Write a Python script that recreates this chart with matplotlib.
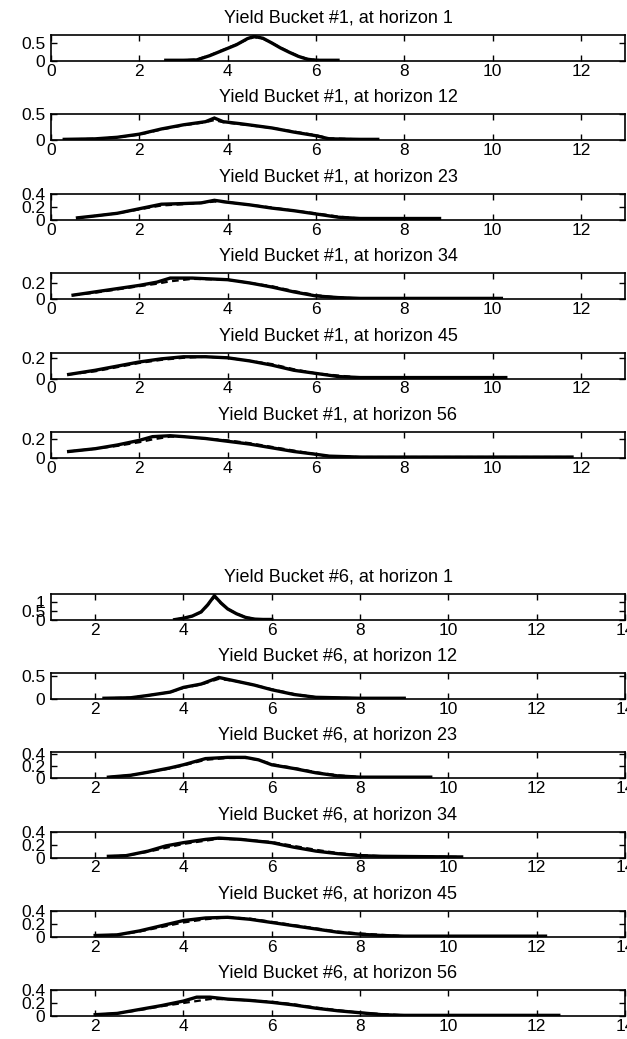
import matplotlib
matplotlib.use("Agg")
import matplotlib.pyplot as plt
import numpy as np

plt.rcParams['font.family'] = ['Liberation Sans', 'DejaVu Sans']

# ---------------- data ----------------
titles_g1 = ["Yield Bucket #1, at horizon 1", "Yield Bucket #1, at horizon 12",
             "Yield Bucket #1, at horizon 23", "Yield Bucket #1, at horizon 34",
             "Yield Bucket #1, at horizon 45", "Yield Bucket #1, at horizon 56"]
titles_g2 = ["Yield Bucket #6, at horizon 1", "Yield Bucket #6, at horizon 12",
             "Yield Bucket #6, at horizon 23", "Yield Bucket #6, at horizon 34",
             "Yield Bucket #6, at horizon 45", "Yield Bucket #6, at horizon 56"]

# Bucket 1
b1h1_x = [2.6, 3.0, 3.3, 3.6, 3.9, 4.2, 4.45, 4.6, 4.8, 5.0, 5.2, 5.4, 5.6, 5.8, 6.0, 6.3, 6.5]
b1h1_s = [0.02, 0.02, 0.03, 0.15, 0.30, 0.45, 0.62, 0.68, 0.63, 0.50, 0.36, 0.24, 0.13, 0.05, 0.02, 0.02, 0.02]
b1h1_d = [0.02, 0.02, 0.04, 0.16, 0.31, 0.46, 0.60, 0.66, 0.62, 0.50, 0.37, 0.25, 0.14, 0.06, 0.03, 0.02, 0.02]

b1h12_x = [0.3, 1.0, 1.5, 2.0, 2.5, 3.0, 3.5, 3.7, 3.9, 4.3, 5.0, 5.5, 6.0, 6.3, 7.0, 7.4]
b1h12_s = [0.02, 0.03, 0.06, 0.12, 0.22, 0.30, 0.36, 0.43, 0.36, 0.32, 0.24, 0.16, 0.09, 0.03, 0.02, 0.02]
b1h12_d = [0.02, 0.03, 0.06, 0.11, 0.21, 0.29, 0.35, 0.39, 0.35, 0.31, 0.24, 0.17, 0.10, 0.04, 0.02, 0.02]

b1h23_x = [0.6, 1.0, 1.5, 2.0, 2.5, 3.0, 3.4, 3.7, 4.0, 4.5, 5.0, 5.5, 6.0, 6.5, 7.0, 8.0, 8.8]
b1h23_s = [0.03, 0.06, 0.10, 0.17, 0.24, 0.25, 0.26, 0.30, 0.27, 0.23, 0.18, 0.14, 0.09, 0.04, 0.02, 0.02, 0.02]
b1h23_d = [0.03, 0.06, 0.10, 0.16, 0.22, 0.24, 0.26, 0.28, 0.27, 0.23, 0.19, 0.14, 0.10, 0.05, 0.02, 0.02, 0.02]

b1h34_x = [0.5, 1.0, 1.5, 2.0, 2.4, 2.7, 3.2, 4.0, 4.5, 5.0, 5.5, 6.0, 6.5, 7.0, 8.0, 9.0, 10.2]
b1h34_s = [0.05, 0.09, 0.13, 0.17, 0.21, 0.26, 0.26, 0.24, 0.20, 0.15, 0.09, 0.04, 0.02, 0.01, 0.01, 0.01, 0.01]
b1h34_d = [0.05, 0.08, 0.12, 0.16, 0.19, 0.22, 0.25, 0.24, 0.20, 0.16, 0.10, 0.05, 0.02, 0.01, 0.01, 0.01, 0.01]

b1h45_x = [0.4, 1.0, 1.5, 2.0, 2.5, 3.0, 3.5, 4.0, 4.5, 5.0, 5.5, 6.0, 6.5, 7.0, 8.0, 9.0, 10.3]
b1h45_s = [0.04, 0.08, 0.12, 0.16, 0.19, 0.21, 0.21, 0.20, 0.17, 0.13, 0.08, 0.05, 0.02, 0.01, 0.01, 0.01, 0.01]
b1h45_d = [0.04, 0.07, 0.11, 0.15, 0.18, 0.20, 0.21, 0.20, 0.17, 0.14, 0.09, 0.05, 0.03, 0.01, 0.01, 0.01, 0.01]

b1h56_x = [0.4, 1.0, 1.5, 2.0, 2.3, 2.7, 3.0, 3.5, 4.0, 4.5, 5.0, 5.5, 6.0, 6.3, 7.0, 8.0, 10.0, 11.8]
b1h56_s = [0.07, 0.10, 0.14, 0.19, 0.23, 0.24, 0.23, 0.21, 0.18, 0.15, 0.11, 0.07, 0.04, 0.02, 0.01, 0.01, 0.01, 0.01]
b1h56_d = [0.07, 0.10, 0.13, 0.17, 0.20, 0.23, 0.23, 0.21, 0.19, 0.16, 0.12, 0.08, 0.04, 0.02, 0.01, 0.01, 0.01, 0.01]

# Bucket 6
b6h1_x = [3.8, 4.0, 4.2, 4.4, 4.55, 4.7, 4.85, 5.0, 5.2, 5.4, 5.6, 5.8, 6.0]
b6h1_s = [0.02, 0.10, 0.22, 0.45, 0.85, 1.35, 0.95, 0.62, 0.35, 0.15, 0.05, 0.03, 0.03]
b6h1_d = [0.02, 0.10, 0.21, 0.44, 0.82, 1.30, 0.93, 0.62, 0.36, 0.16, 0.06, 0.03, 0.03]

b6h12_x = [2.2, 2.8, 3.2, 3.7, 4.0, 4.4, 4.8, 5.2, 5.6, 6.0, 6.5, 7.0, 8.0, 9.0]
b6h12_s = [0.02, 0.03, 0.08, 0.15, 0.25, 0.32, 0.46, 0.38, 0.30, 0.20, 0.10, 0.04, 0.02, 0.02]
b6h12_d = [0.02, 0.03, 0.08, 0.15, 0.24, 0.31, 0.43, 0.38, 0.30, 0.21, 0.11, 0.04, 0.02, 0.02]

b6h23_x = [2.3, 2.8, 3.2, 3.7, 4.0, 4.5, 5.0, 5.4, 5.7, 6.0, 6.5, 7.0, 7.5, 8.0, 9.6]
b6h23_s = [0.02, 0.05, 0.10, 0.17, 0.22, 0.32, 0.34, 0.34, 0.30, 0.22, 0.16, 0.09, 0.04, 0.02, 0.02]
b6h23_d = [0.02, 0.05, 0.10, 0.16, 0.21, 0.30, 0.33, 0.33, 0.30, 0.23, 0.17, 0.10, 0.05, 0.02, 0.02]

b6h34_x = [2.3, 2.7, 3.2, 3.6, 4.0, 4.5, 4.8, 5.3, 6.0, 6.5, 7.0, 7.5, 8.0, 8.5, 10.3]
b6h34_s = [0.02, 0.03, 0.10, 0.18, 0.23, 0.28, 0.30, 0.28, 0.23, 0.16, 0.10, 0.06, 0.03, 0.02, 0.01]
b6h34_d = [0.02, 0.03, 0.09, 0.15, 0.21, 0.26, 0.29, 0.28, 0.24, 0.18, 0.12, 0.07, 0.04, 0.02, 0.01]

b6h45_x = [2.0, 2.5, 3.0, 3.5, 4.0, 4.5, 5.0, 5.5, 6.0, 6.5, 7.0, 7.5, 8.0, 8.5, 9.0, 12.2]
b6h45_s = [0.02, 0.03, 0.09, 0.17, 0.25, 0.29, 0.30, 0.27, 0.22, 0.17, 0.12, 0.07, 0.04, 0.02, 0.01, 0.01]
b6h45_d = [0.02, 0.03, 0.08, 0.15, 0.22, 0.27, 0.30, 0.28, 0.23, 0.18, 0.13, 0.08, 0.05, 0.03, 0.01, 0.01]

b6h56_x = [2.0, 2.5, 3.0, 3.5, 4.0, 4.3, 4.6, 5.0, 5.5, 6.0, 6.5, 7.0, 7.5, 8.0, 8.5, 9.0, 12.5]
b6h56_s = [0.02, 0.04, 0.10, 0.16, 0.23, 0.29, 0.29, 0.26, 0.24, 0.21, 0.17, 0.12, 0.08, 0.05, 0.02, 0.01, 0.01]
b6h56_d = [0.02, 0.04, 0.09, 0.15, 0.20, 0.23, 0.26, 0.26, 0.24, 0.22, 0.18, 0.13, 0.09, 0.05, 0.03, 0.01, 0.01]

g1_series = [(b1h1_x, b1h1_s, b1h1_d), (b1h12_x, b1h12_s, b1h12_d), (b1h23_x, b1h23_s, b1h23_d),
             (b1h34_x, b1h34_s, b1h34_d), (b1h45_x, b1h45_s, b1h45_d), (b1h56_x, b1h56_s, b1h56_d)]
g2_series = [(b6h1_x, b6h1_s, b6h1_d), (b6h12_x, b6h12_s, b6h12_d), (b6h23_x, b6h23_s, b6h23_d),
             (b6h34_x, b6h34_s, b6h34_d), (b6h45_x, b6h45_s, b6h45_d), (b6h56_x, b6h56_s, b6h56_d)]

g1_ylims = [0.72, 0.5, 0.4, 0.32, 0.25, 0.28]
g1_yticks = [[0, 0.5], [0, 0.5], [0, 0.2, 0.4], [0, 0.2], [0, 0.2], [0, 0.2]]
g2_ylims = [1.45, 0.55, 0.42, 0.4, 0.4, 0.4]
g2_yticks = [[0, 0.5, 1], [0, 0.5], [0, 0.2, 0.4], [0, 0.2, 0.4], [0, 0.2, 0.4], [0, 0.2, 0.4]]

g1_xlim = (0, 13)
g1_xticks = [0, 2, 4, 6, 8, 10, 12]
g2_xlim = (1, 14)
g2_xticks = [2, 4, 6, 8, 10, 12, 14]

# ---------------- layout ----------------
W, H = 627, 1039
fig = plt.figure(figsize=(W / 100, H / 100), dpi=100)

left_px, right_px = 51, 625
g1_tops = [35, 114.4, 193.8, 273.2, 352.6, 432]
g2_tops = [594, 673.2, 752.4, 831.6, 910.8, 990]
ax_h = 26


def fmt(v):
    if v == 0:
        return "0"
    return "%g" % v


def make_axes(top, title, series, ylim_top, yticks, xlim, xticks):
    ax = fig.add_axes([left_px / W, 1 - (top + ax_h) / H, (right_px - left_px) / W, ax_h / H])
    x, s, d = series
    ax.plot(x, s, color='black', lw=2.4, solid_joinstyle='miter')
    ax.plot(x, d, color='black', lw=1.6, ls=(0, (3, 2)))
    ax.set_xlim(*xlim)
    ax.set_ylim(0, ylim_top)
    ax.set_xticks(xticks)
    ax.set_xticklabels([fmt(t) for t in xticks])
    ax.set_yticks(yticks)
    ax.set_yticklabels([fmt(t) for t in yticks])
    ax.tick_params(direction='in', top=True, right=True, length=4, width=1,
                   labelsize=12.5, pad=2)
    ax.tick_params(axis='y', pad=4)
    for sp in ax.spines.values():
        sp.set_linewidth(1.2)
    ax.set_title(title, fontsize=13, pad=9)
    ax.set_facecolor('white')
    return ax


for i in range(6):
    make_axes(g1_tops[i], titles_g1[i], g1_series[i], g1_ylims[i], g1_yticks[i], g1_xlim, g1_xticks)
for i in range(6):
    make_axes(g2_tops[i], titles_g2[i], g2_series[i], g2_ylims[i], g2_yticks[i], g2_xlim, g2_xticks)

fig.savefig("out.png", dpi=100, facecolor='white')
